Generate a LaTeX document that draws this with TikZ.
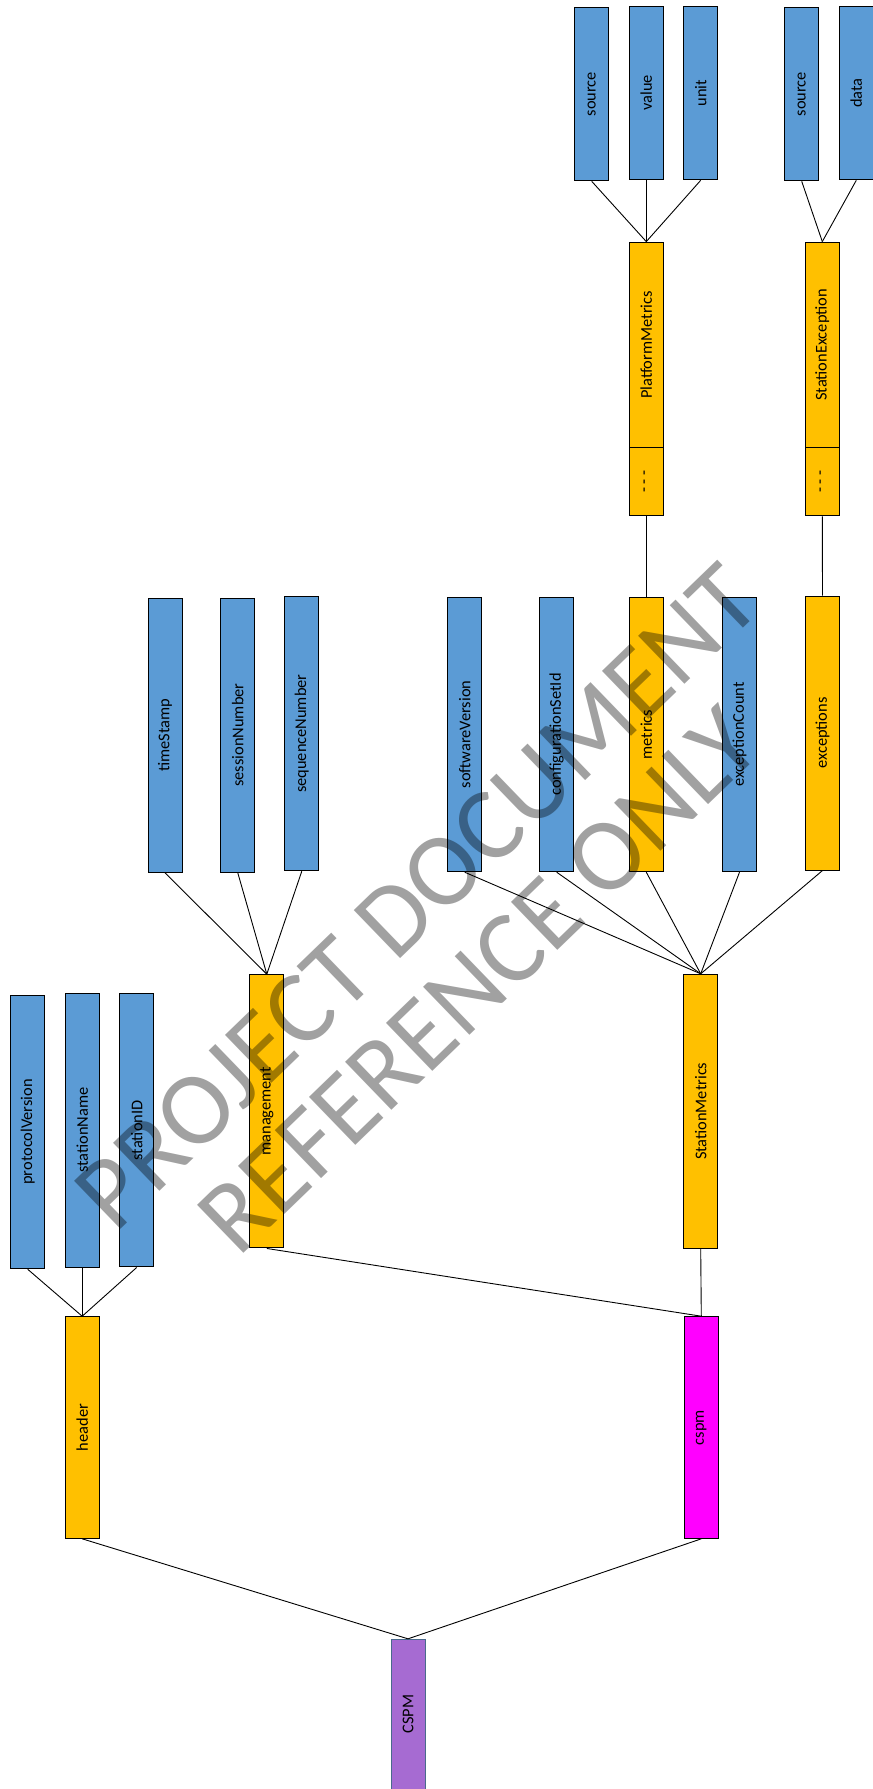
\documentclass[tikz,border=0pt]{standalone}
\usepackage{fontspec}
\setmainfont{Carlito}
\usepackage{graphicx}
\definecolor{fieldblue}{HTML}{5B9BD5}
\definecolor{groupgold}{HTML}{FFC000}
\definecolor{msgmagenta}{HTML}{FF00FF}
\definecolor{rootpurple}{HTML}{A66BD2}
\definecolor{rootedge}{HTML}{4A6A8C}
\tikzset{
  box/.style={draw=black, line width=1pt, inner sep=0pt, minimum width=34pt,
    font=\fontsize{16.4}{19}\selectfont},
  field/.style={box, fill=fieldblue},
  group/.style={box, fill=groupgold},
  link/.style={draw=black, line width=0.9pt},
  watermark/.style={text=black, opacity=0.37, rotate=44, inner sep=0pt,
    font=\fontsize{104}{120}\selectfont}
}
\newcommand{\vlabel}[1]{\rotatebox{90}{#1}}
\begin{document}
\begin{tikzpicture}[x=1pt,y=-1pt]
\useasboundingbox (0,0) rectangle (873,1789);
\clip (0,0) rectangle (873,1789);
\fill[white] (0,0) rectangle (873,1789);

% root and top level
\node[box, fill=rootpurple, draw=rootedge, minimum height=150pt] (root) at (408,1714.3) {\vlabel{CSPM}};
\node[group, minimum height=221.6pt] (header) at (82.2,1427.5) {\vlabel{header}};
\node[box, fill=msgmagenta, minimum height=221.6pt] (cspm) at (701.3,1427.5) {\vlabel{cspm}};

% header fields
\node[field, minimum height=273.7pt] (protocolVersion) at (27.7,1131.9) {\vlabel{protocolVersion}};
\node[field, minimum height=273.7pt] (stationName) at (82.2,1130.2) {\vlabel{stationName}};
\node[field, minimum height=273.3pt] (stationID) at (136.7,1130.3) {\vlabel{stationID}};

% cspm body
\node[group, minimum height=273.3pt] (management) at (266.8,1111.3) {\vlabel{management}};
\node[group, minimum height=274pt] (StationMetrics) at (700.7,1111.3) {\vlabel{StationMetrics}};

% management fields
\node[field, minimum height=274pt] (timeStamp) at (165,735.3) {\vlabel{timeStamp}};
\node[field, minimum height=274pt] (sessionNumber) at (237.7,735) {\vlabel{sessionNumber}};
\node[field, minimum height=274pt] (sequenceNumber) at (301.8,733.7) {\vlabel{sequenceNumber}};

% station metrics fields
\node[field, minimum height=274.4pt] (softwareVersion) at (464.7,734.5) {\vlabel{softwareVersion}};
\node[field, minimum height=274.4pt] (configurationSetId) at (556.7,734.5) {\vlabel{configurationSetId}};
\node[group, minimum height=274.4pt] (metrics) at (646.3,734.5) {\vlabel{metrics}};
\node[field, minimum height=274.4pt] (exceptionCount) at (739.5,734.5) {\vlabel{exceptionCount}};
\node[group, minimum height=274pt] (exceptions) at (822.5,733) {\vlabel{exceptions}};

% array element types
\node[group, minimum height=68.1pt] (pmMore) at (646.3,481.75) {\vlabel{- - -}};
\node[group, minimum height=205.6pt] (PlatformMetrics) at (646.3,344.9) {\vlabel{PlatformMetrics}};
\node[group, minimum height=68.1pt] (seMore) at (822.3,481.75) {\vlabel{- - -}};
\node[group, minimum height=205.6pt] (StationException) at (822.3,344.9) {\vlabel{StationException}};

% element fields
\node[field, minimum height=173.2pt] (pmSource) at (591.7,94.2) {\vlabel{source}};
\node[field, minimum height=173.6pt] (pmValue) at (646.3,93) {\vlabel{value}};
\node[field, minimum height=173pt] (pmUnit) at (700.7,93.3) {\vlabel{unit}};
\node[field, minimum height=173.2pt] (seSource) at (801.7,94.2) {\vlabel{source}};
\node[field, minimum height=173.6pt] (seData) at (856.3,93) {\vlabel{data}};

% connectors
\draw[link] (root.north) -- (header.south);
\draw[link] (root.north) -- (cspm.south);
\foreach \c in {protocolVersion,stationName,stationID}
  \draw[link] (header.north) -- (\c.south);
\draw[link] (cspm.north) -- (management.south);
\draw[link] (cspm.north) -- (StationMetrics.south);
\foreach \c in {timeStamp,sessionNumber,sequenceNumber}
  \draw[link] (management.north) -- (\c.south);
\foreach \c in {softwareVersion,configurationSetId,metrics,exceptionCount,exceptions}
  \draw[link] (StationMetrics.north) -- (\c.south);
\draw[link] (metrics.north) -- (pmMore.south);
\draw[link] (exceptions.north) -- (seMore.south);
\foreach \c in {pmSource,pmValue,pmUnit}
  \draw[link] (PlatformMetrics.north) -- (\c.south);
\foreach \c in {seSource,seData}
  \draw[link] (StationException.north) -- (\c.south);

% watermark
\node[watermark] (wm1) at (417,897) {PROJECT DOCUMENT};
\node[watermark] (wm2) at (479,980) {REFERENCE ONLY};
\end{tikzpicture}
\end{document}
